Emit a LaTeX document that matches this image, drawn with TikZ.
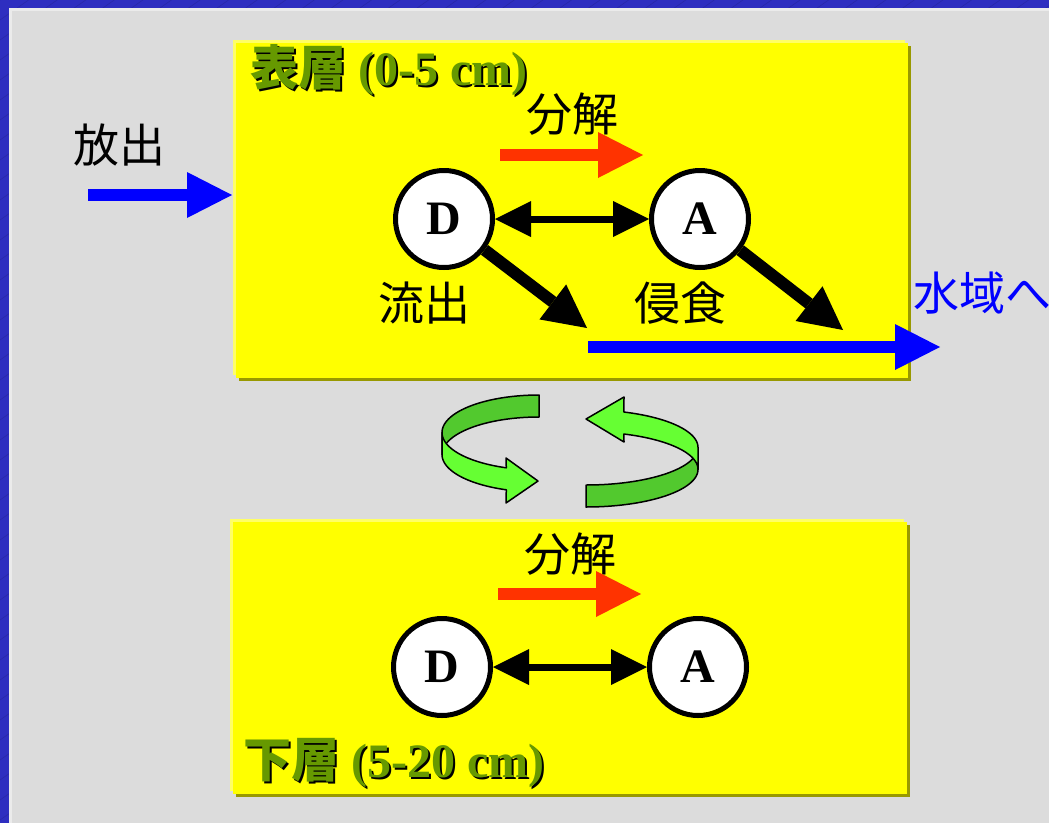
\documentclass[tikz,border=0pt]{standalone}
\usepackage{fontspec}
\setmainfont{Liberation Serif}
\newfontfamily\cjk{Noto Sans CJK JP}
\usetikzlibrary{arrows.meta}
\definecolor{bgblue}{HTML}{2E2EC0}
\definecolor{bgline}{HTML}{2828A8}
\definecolor{panel}{HTML}{DCDCDC}
\definecolor{panelrim}{HTML}{EBEBEB}
\definecolor{boxyellow}{HTML}{FFFF00}
\definecolor{boxlight}{HTML}{FFFF66}
\definecolor{boxshadow}{HTML}{999900}
\definecolor{titlegreen}{HTML}{669900}
\definecolor{arrred}{HTML}{FF3300}
\definecolor{arrblue}{HTML}{0000FF}
\definecolor{riblight}{HTML}{66FF33}
\definecolor{ribdark}{HTML}{52C92E}
\newcommand\bigf{\fontsize{46pt}{52pt}\selectfont}
\newcommand\titlef{\fontsize{48pt}{54pt}\selectfont}
\begin{document}
\begin{tikzpicture}[x=1pt,y=-1pt,
  lbl/.style={inner sep=0pt, font=\bigf\cjk},
  title/.style={inner sep=0pt, anchor=base west, font=\titlef\bfseries},
  circ/.style={circle, draw=black, line width=5pt, fill=white, minimum size=97pt, inner sep=0pt, font=\fontsize{48pt}{54pt}\selectfont\bfseries},
  dbl/.style={line width=7pt, {Triangle[length=36pt,width=36pt,line width=0pt]}-{Triangle[length=36pt,width=36pt,line width=0pt]}},
  fatblack/.style={line width=12pt, -{Triangle[length=43pt,width=44pt,line width=0pt]}},
  fatblue/.style={arrblue, line width=12pt, -{Triangle[length=45pt,width=46pt,line width=0pt]}},
  fatred/.style={arrred, line width=12pt, -{Triangle[length=45pt,width=46pt,line width=0pt]}},
  ribbonA/.style={fill=ribdark, draw=black, line width=1.5pt, line join=round},
  ribbonB/.style={fill=riblight, draw=black, line width=1.5pt, line join=round}
]
\useasboundingbox (0,0) rectangle (1049,822);
\begin{scope}
\clip (0,0) rectangle (1049,822);
% background frame
\fill[bgblue] (-5,-5) rectangle (1060,830);
\foreach \c in {0,20,...,1600} \draw[bgline, line width=0.6pt] (-10,\c+7) -- (\c/0.7+10,-7);
\fill[panelrim] (9,8) rectangle (1060,840);
\fill[panel] (12,11) rectangle (1060,840);

% top box
\fill[boxshadow] (239,46) rectangle (911,381);
\fill[boxlight] (233,40) rectangle (905,375);
\fill[boxyellow] (236,43) rectangle (908,378);
% bottom box
\fill[boxshadow] (236,525) rectangle (910,797);
\fill[boxlight] (230,519) rectangle (904,791);
\fill[boxyellow] (233,522) rectangle (907,794);

% titles
\node[title, text=black] (t1s) at (252,87) {{\cjk\bfseries 表層} (0-5 cm)};
\node[title, text=titlegreen] (t1) at (250,85) {{\cjk\bfseries 表層} (0-5 cm)};
\node[title, text=black] (t2s) at (245,779) {{\cjk\bfseries 下層} (5-20 cm)};
\node[title, text=titlegreen] (t2) at (243,777) {{\cjk\bfseries 下層} (5-20 cm)};

% labels
\node[lbl] (hoshutsu) at (119,145) {放出};
\node[lbl] (bunkai1) at (572,114) {分解};
\node[lbl] (ryushutsu) at (424,303) {流出};
\node[lbl] (shinshoku) at (680,303) {侵食};
\node[lbl] (bunkai2) at (570,554) {分解};
\node[lbl, anchor=west, text=arrblue] (suiiki) at (913,293) {水域へ};

% circles
\node[circ] (D1) at (444,219) {D};
\node[circ] (A1) at (700,219) {A};
\node[circ] (D2) at (442,667) {D};
\node[circ] (A2) at (698,667) {A};

% connectors
\draw[dbl] (D1) -- (A1);
\draw[dbl] (D2) -- (A2);
\coordinate (tipD) at (587,328);
\coordinate (tipA) at (843,330);
\draw[fatblack] (D1) -- (tipD);
\draw[fatblack] (A1) -- (tipA);

\coordinate (inS) at (88,195);
\coordinate (inE) at (232,195);
\draw[fatblue] (inS) -- (inE);
\coordinate (outS) at (588,347);
\coordinate (outE) at (940,347);
\draw[fatblue] (outS) -- (outE);
\coordinate (r1S) at (500,155);
\coordinate (r1E) at (643,155);
\draw[fatred] (r1S) -- (r1E);
\coordinate (r2S) at (498,594);
\coordinate (r2E) at (641,594);
\draw[fatred] (r2S) -- (r2E);

% cyclic ribbon arrows
\filldraw[ribbonA] plot[domain=90:180,samples=40] ({539+97*cos(\x)},{432.5-37.5*sin(\x)})
  -- plot[domain=180:90,samples=40] ({539+97*cos(\x)},{454.5-37.5*sin(\x)}) -- cycle;
\filldraw[ribbonB] plot[domain=180:250.3,samples=40] ({539+97*cos(\x)},{432.5-37.5*sin(\x)})
  -- (506,458) -- (538,481) -- (506,503)
  -- plot[domain=250.3:180,samples=40] ({539+97*cos(\x)},{454.5-37.5*sin(\x)}) -- cycle;
\filldraw[ribbonA] plot[domain=-90:0,samples=40] ({586+112*cos(\x)},{447.4-37.6*sin(\x)})
  -- plot[domain=0:-90,samples=40] ({586+112*cos(\x)},{469.4-37.6*sin(\x)}) -- cycle;
\filldraw[ribbonB] plot[domain=0:70.2,samples=40] ({586+112*cos(\x)},{447.4-37.6*sin(\x)})
  -- (624,397) -- (586,419) -- (624,442)
  -- plot[domain=70.2:0,samples=40] ({586+112*cos(\x)},{469.4-37.6*sin(\x)}) -- cycle;
\end{scope}
\end{tikzpicture}
\end{document}
